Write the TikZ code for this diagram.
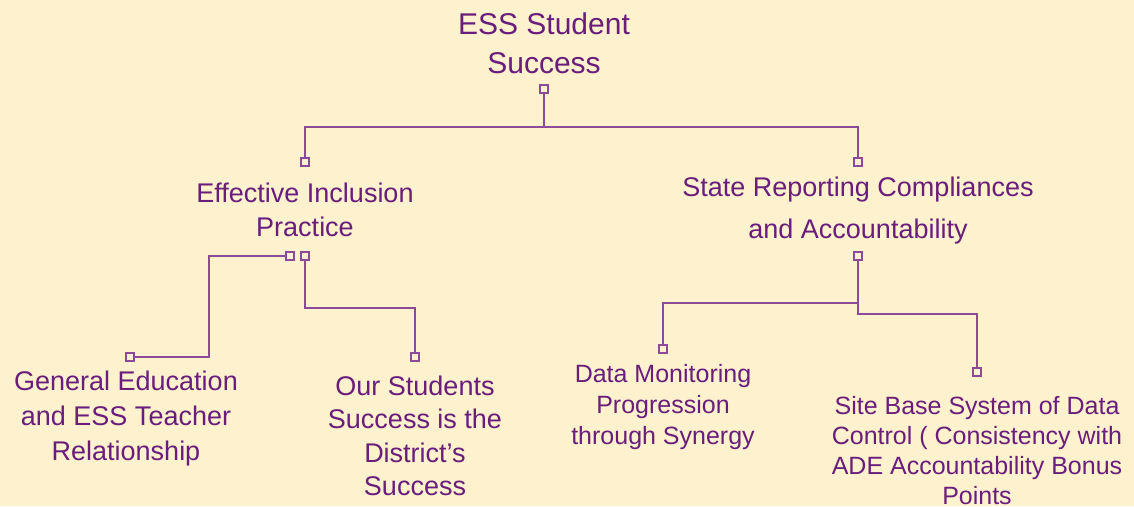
\documentclass[tikz,border=0pt]{standalone}
\usepackage{fontspec}
\setmainfont{Liberation Sans}
\definecolor{paper}{HTML}{FEF1CE}
\definecolor{plum}{HTML}{6A1E7C}
\definecolor{wirecol}{HTML}{8C4A98}
\tikzset{
    topic/.style={
           align=center,
           text=plum,
           inner sep=0pt,
           },
    port/.style={
           rectangle,
           draw=wirecol, fill=paper,
           line width=1.6pt,
           minimum size=8.5pt,
           inner sep=0pt,
           },
    link/.style={
           draw=wirecol,
           line width=1.4pt,
           },
}

\begin{document}
\begin{tikzpicture}[x=1pt, y=-1pt]
    \useasboundingbox[fill=paper] (0,0) rectangle (1134,506);

    % Topics: the root, its two branches and their leaves
    \node[topic, font=\fontsize{30}{39}\selectfont] (root) at (544,43)
    {ESS Student\\Success};

    \node[topic, font=\fontsize{27}{34}\selectfont] (incl) at (305,210)
    {Effective Inclusion\\Practice};

    \node[topic, font=\fontsize{27}{42}\selectfont] (state) at (858,211)
    {State Reporting Compliances\\and Accountability};

    \node[topic, font=\fontsize{27}{35}\selectfont] (gened) at (126,419)
    {General Education\\and ESS Teacher\\Relationship};

    \node[topic, font=\fontsize{27}{33.5}\selectfont] (ours) at (415,436)
    {Our Students\\Success is the\\District’s\\Success};

    \node[topic, font=\fontsize{25}{31}\selectfont] (data) at (663,407)
    {Data Monitoring\\Progression\\through Synergy};

    \node[topic, font=\fontsize{25}{30}\selectfont] (site) at (977,451)
    {Site Base System of Data\\Control ( Consistency with\\ADE Accountability Bonus\\Points};

    % small squares where the connectors end
    \node[port] (root-out)  at (544,89)  {};
    \node[port] (incl-in)   at (305,162) {};
    \node[port] (state-in)  at (858,162) {};
    \node[port] (incl-outa) at (290,256) {};
    \node[port] (incl-outb) at (305,256) {};
    \node[port] (state-out) at (858,256) {};
    \node[port] (gened-in)  at (130,357) {};
    \node[port] (ours-in)   at (415,357) {};
    \node[port] (data-in)   at (663,349) {};
    \node[port] (site-in)   at (977,372) {};

    % draw the connectors between the squares
    \path[link]
        (root-out.south) -- ++(0,33) -| (incl-in.north)
        (root-out.south) -- ++(0,33) -| (state-in.north)

        (incl-outa.west) -- ++(-76,0) |- (gened-in.east)
        (incl-outb.south) -- ++(0,47) -| (ours-in.north)

        (state-out.south) -- ++(0,42) -| (data-in.north)
        (state-out.south) -- ++(0,53) -| (site-in.north)
        ;

\end{tikzpicture}
\end{document}
